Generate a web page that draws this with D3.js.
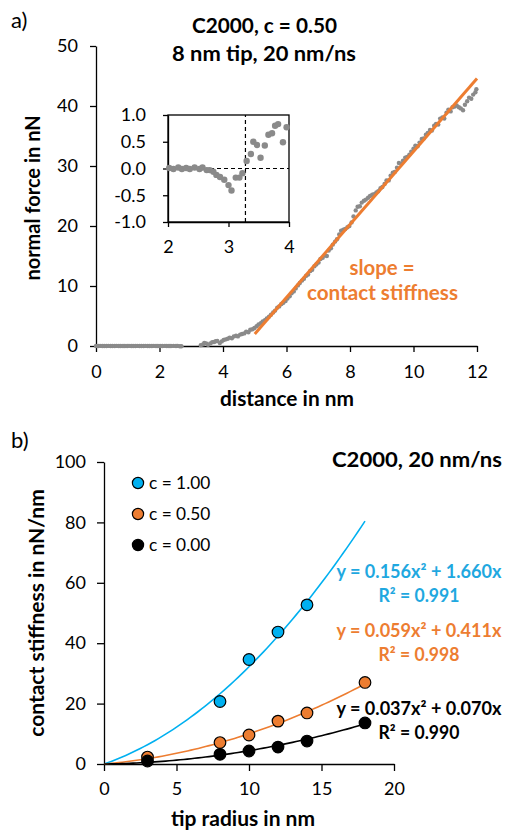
<!DOCTYPE html>
<html>
<head>
<meta charset="utf-8">
<script src="https://d3js.org/d3.v7.min.js"></script>
<style>
    body { margin: 0; background: #fff; }
    text { font-family: Lato, "Noto Sans", sans-serif; }
</style>
</head>
<body>
<div id="chart"></div>
<script>
// panel a: force vs distance curve, [distance nm, force nN]
var forceCurve = [
    [0.00, 0.01], [0.07, -0.01], [0.13, 0.02], [0.20, 0.00], [0.26, 0.01], [0.33, -0.01],
    [0.39, 0.02], [0.46, 0.00], [0.52, 0.01], [0.59, -0.01], [0.65, 0.02], [0.72, 0.00],
    [0.78, 0.01], [0.85, -0.01], [0.91, 0.01], [0.98, 0.00], [1.04, 0.02], [1.11, -0.01],
    [1.17, 0.01], [1.24, 0.00], [1.30, 0.02], [1.37, -0.01], [1.43, 0.01], [1.50, 0.00],
    [1.56, 0.02], [1.63, -0.01], [1.69, 0.01], [1.76, 0.00], [1.82, 0.02], [1.89, -0.01],
    [1.95, 0.01],
    [2.02, 0.01], [2.09, -0.01], [2.17, 0.02], [2.23, -0.01], [2.30, 0.01], [2.36, -0.01],
    [2.44, 0.02], [2.52, -0.01], [2.57, 0.02], [2.64, -0.03], [2.69, -0.03], [2.75, -0.06],
    [2.80, -0.12], [2.86, -0.16], [2.93, -0.21], [3.00, -0.31], [3.05, -0.41], [3.12, -0.17],
    [3.18, -0.17], [3.23, -0.09], [3.30, 0.14], [3.37, 0.27], [3.41, 0.50], [3.47, 0.44],
    [3.53, 0.20], [3.60, 0.43], [3.66, 0.63], [3.72, 0.66], [3.77, 0.80], [3.82, 0.83],
    [3.90, 0.49], [3.96, 0.77],
    [4.02, 1.0], [4.08, 1.1], [4.15, 1.2], [4.21, 1.4], [4.28, 1.3], [4.34, 1.6],
    [4.41, 1.7], [4.47, 1.6], [4.54, 1.9], [4.60, 2.0], [4.67, 2.1], [4.73, 2.4],
    [4.80, 2.3], [4.86, 2.7], [4.93, 2.8], [4.99, 3.0], [5.06, 3.3], [5.12, 3.6],
    [5.19, 3.8], [5.25, 4.1], [5.32, 4.3], [5.38, 4.6], [5.45, 4.9], [5.51, 5.2],
    [5.58, 5.6], [5.64, 5.9], [5.71, 6.4], [5.77, 6.6], [5.84, 7.0], [5.90, 7.2],
    [5.97, 7.5], [6.03, 7.9], [6.10, 8.3], [6.16, 8.8], [6.23, 9.1], [6.29, 9.6],
    [6.36, 10.1], [6.42, 10.5], [6.49, 10.9], [6.55, 11.2], [6.62, 11.7], [6.68, 11.9],
    [6.75, 12.5], [6.81, 12.7], [6.88, 13.3], [6.94, 13.6], [7.01, 13.9], [7.07, 14.5],
    [7.14, 14.7], [7.20, 15.1], [7.27, 15.0], [7.33, 15.9], [7.40, 16.3], [7.46, 16.9],
    [7.53, 17.4], [7.59, 17.8], [7.66, 18.6], [7.72, 19.2], [7.79, 19.4], [7.85, 19.5],
    [7.92, 19.8], [7.98, 20.0], [8.05, 20.6], [8.11, 21.6], [8.18, 22.6], [8.24, 23.2],
    [8.31, 23.3], [8.37, 23.9], [8.44, 24.2], [8.50, 24.4], [8.57, 24.7], [8.63, 25.0],
    [8.70, 25.2], [8.76, 25.3], [8.83, 25.6], [8.89, 25.8], [8.96, 26.3], [9.02, 26.5],
    [9.09, 27.0], [9.15, 27.6], [9.22, 27.6], [9.28, 28.4], [9.35, 28.9], [9.41, 29.0],
    [9.48, 29.7], [9.54, 30.5], [9.61, 30.4], [9.67, 30.9], [9.74, 31.4], [9.80, 31.5],
    [9.87, 31.9], [9.93, 32.4], [10.00, 32.9], [10.06, 33.4], [10.13, 33.3], [10.19, 33.9],
    [10.26, 34.5], [10.32, 34.6], [10.39, 35.2], [10.45, 35.5], [10.52, 36.0], [10.58, 35.9],
    [10.65, 36.7], [10.71, 37.0], [10.78, 36.9], [10.84, 37.9], [10.91, 38.1], [10.97, 37.9],
    [11.04, 38.9], [11.10, 39.4], [11.17, 39.1], [11.23, 39.8], [11.30, 39.9], [11.36, 40.1],
    [11.43, 39.8], [11.49, 39.6], [11.56, 39.3], [11.62, 40.2], [11.69, 40.8], [11.75, 41.4],
    [11.82, 41.2], [11.88, 41.9], [11.95, 42.3], [11.98, 42.8]
];
var slopeLine = [[5.0, 2.0], [12.0, 44.6]];
var contactPoint = 3.28;

var xTicksA = [0, 2, 4, 6, 8, 10, 12];
var yTicksA = [0, 10, 20, 30, 40, 50];
var xTicksInset = [2, 3, 4];
var yTicksInset = [-1.0, -0.5, 0.0, 0.5, 1.0];

// panel b: contact stiffness vs tip radius
var seriesNames = ["c = 1.00", "c = 0.50", "c = 0.00"];
var seriesColors = ["#00b0f0", "#ed7d31", "#000000"];
var radiusC100 = [8, 10, 12, 14];
var stiffC100 = [20.7, 34.6, 43.7, 52.7];
var radiusC050 = [3, 8, 10, 12, 14, 18];
var stiffC050 = [2.3, 7.1, 9.6, 14.2, 16.9, 27.0];
var radiusC000 = [3, 8, 10, 12, 14, 18];
var stiffC000 = [1.0, 3.2, 4.3, 5.6, 7.6, 13.6];
// polynomial fits y = a x^2 + b x
var fitCoeffs = [[0.156, 1.660], [0.059, 0.411], [0.037, 0.070]];
var fitLabels = ["y = 0.156x² + 1.660x", "y = 0.059x² + 0.411x", "y = 0.037x² + 0.070x"];
var r2Labels = ["R² = 0.991", "R² = 0.998", "R² = 0.990"];
var xTicksB = [0, 5, 10, 15, 20];
var yTicksB = [0, 20, 40, 60, 80, 100];

var width = 505,
    height = 834;

var svg = d3.select("#chart")
    .append("svg")
    .attr("width", width)
    .attr("height", height);

function styleAxis(g) {
    g.selectAll("path, line").attr("stroke", "#000").attr("stroke-width", 1.3);
    g.selectAll("text").attr("font-family", "Lato, sans-serif").attr("font-size", 18).attr("fill", "#000");
}

function boldText(x, y, size, label, len) {
    var t = svg.append("text").attr("x", x).attr("y", y)
        .attr("text-anchor", "middle").attr("font-weight", "bold").attr("font-size", size)
        .text(label);
    if (len) t.attr("textLength", len).attr("lengthAdjust", "spacingAndGlyphs");
    return t;
}

// ---------- panel a ----------
var xA = d3.scaleLinear().domain([0, 12]).range([96, 477]);
var yA = d3.scaleLinear().domain([0, 50]).range([346, 46]);

svg.append("text").attr("x", 11).attr("y", 28)
    .attr("font-family", "'Liberation Serif', 'DejaVu Serif', serif")
    .attr("font-size", 22).text("a)");

boldText(264.5, 33, 20.5, "C2000, c = 0.50", 145);
boldText(264, 61, 20.5, "8 nm tip, 20 nm/ns", 184);

svg.append("g").attr("transform", "translate(0,346)")
    .call(d3.axisBottom(xA).tickValues(xTicksA).tickSizeInner(6).tickSizeOuter(0).tickPadding(13))
    .call(styleAxis);
svg.append("g").attr("transform", "translate(96,0)")
    .call(d3.axisLeft(yA).tickValues(yTicksA).tickSizeInner(6).tickSizeOuter(0).tickPadding(12))
    .call(styleAxis);

boldText(287, 406, 20, "distance in nm", 134);
boldText(0, 0, 20, "normal force in nN")
    .attr("transform", "translate(40,198) rotate(-90)");

svg.append("g").selectAll("circle")
    .data(forceCurve.filter(function(d) { return d[1] > -0.05; }))
    .enter().append("circle")
    .attr("cx", function(d) { return xA(d[0]); })
    .attr("cy", function(d) { return yA(d[1]); })
    .attr("r", 2.2)
    .attr("fill", "#8a8a8a");

svg.append("line")
    .attr("x1", xA(slopeLine[0][0])).attr("y1", yA(slopeLine[0][1]))
    .attr("x2", xA(slopeLine[1][0])).attr("y2", yA(slopeLine[1][1]))
    .attr("stroke", "#ed7d31").attr("stroke-width", 3);

boldText(382, 275, 20.5, "slope =", 65).attr("fill", "#ed7d31");
boldText(382.5, 300, 20.5, "contact stiffness", 151).attr("fill", "#ed7d31");

// inset
var xI = d3.scaleLinear().domain([2, 4]).range([168, 289]);
var yI = d3.scaleLinear().domain([-1, 1]).range([222, 115]);

svg.append("rect").attr("x", 168).attr("y", 115).attr("width", 121).attr("height", 107)
    .attr("fill", "#fff").attr("stroke", "#000").attr("stroke-width", 1.3);

svg.append("g").attr("transform", "translate(0,222)")
    .call(d3.axisBottom(xI).tickValues(xTicksInset).tickFormat(d3.format("d")).tickSizeInner(5).tickSizeOuter(0).tickPadding(13))
    .call(styleAxis);
svg.append("g").attr("transform", "translate(168,0)")
    .call(d3.axisLeft(yI).tickValues(yTicksInset).tickFormat(d3.format(".1f")).tickSizeInner(5).tickSizeOuter(0).tickPadding(17))
    .call(styleAxis);
// d3 uses a real minus sign; keep the hyphen like the original
svg.selectAll("text").each(function() {
    var t = d3.select(this);
    t.text(t.text().replace("\u2212", "-"));
});

svg.append("line")
    .attr("x1", xI(2)).attr("x2", xI(4)).attr("y1", yI(0)).attr("y2", yI(0))
    .attr("stroke", "#000").attr("stroke-width", 1.2).attr("stroke-dasharray", "4,3");
svg.append("line")
    .attr("x1", xI(contactPoint)).attr("x2", xI(contactPoint)).attr("y1", yI(-1)).attr("y2", yI(1))
    .attr("stroke", "#000").attr("stroke-width", 1.2).attr("stroke-dasharray", "4,3");

svg.append("g").selectAll("circle")
    .data(forceCurve.filter(function(d) { return d[0] >= 2 && d[0] <= 4; }))
    .enter().append("circle")
    .attr("cx", function(d) { return xI(d[0]); })
    .attr("cy", function(d) { return yI(d[1]); })
    .attr("r", 3.2)
    .attr("fill", "#8a8a8a");

// ---------- panel b ----------
var xB = d3.scaleLinear().domain([0, 20]).range([104, 394]);
var yB = d3.scaleLinear().domain([0, 100]).range([764, 462]);

svg.append("text").attr("x", 11).attr("y", 448)
    .attr("font-family", "'Liberation Serif', 'DejaVu Serif', serif")
    .attr("font-size", 22).text("b)");

svg.append("g").attr("transform", "translate(0,764)")
    .call(d3.axisBottom(xB).tickValues(xTicksB).tickSizeInner(7).tickSizeOuter(0).tickPadding(11))
    .call(styleAxis);
svg.append("g").attr("transform", "translate(104,0)")
    .call(d3.axisLeft(yB).tickValues(yTicksB).tickSizeInner(7).tickSizeOuter(0).tickPadding(11))
    .call(styleAxis);

boldText(417, 467, 21.5, "C2000, 20 nm/ns", 170);
boldText(243, 826, 21, "tip radius in nm", 144);
boldText(0, 0, 21, "contact stiffness in nN/nm")
    .attr("transform", "translate(44,613) rotate(-90)");

var seriesB = [
    {x: radiusC100, y: stiffC100},
    {x: radiusC050, y: stiffC050},
    {x: radiusC000, y: stiffC000}
];

var fitLine = d3.line()
    .x(function(d) { return xB(d[0]); })
    .y(function(d) { return yB(d[1]); });

fitCoeffs.forEach(function(c, i) {
    var pts = d3.range(0, 18.001, 0.25).map(function(x) { return [x, c[0] * x * x + c[1] * x]; });
    svg.append("path").datum(pts)
        .attr("d", fitLine)
        .attr("fill", "none")
        .attr("stroke", seriesColors[i])
        .attr("stroke-width", 1.6);
});

seriesB.forEach(function(s, i) {
    svg.append("g").selectAll("circle")
        .data(s.x.map(function(x, j) { return [x, s.y[j]]; }))
        .enter().append("circle")
        .attr("cx", function(d) { return xB(d[0]); })
        .attr("cy", function(d) { return yB(d[1]); })
        .attr("r", 5.8)
        .attr("fill", seriesColors[i])
        .attr("stroke", "#000")
        .attr("stroke-width", 1.2);
});

// legend
var legendY = [483, 514, 545];
seriesNames.forEach(function(name, i) {
    svg.append("circle").attr("cx", 138).attr("cy", legendY[i]).attr("r", 5.6)
        .attr("fill", seriesColors[i]).attr("stroke", "#000").attr("stroke-width", 1.2);
    svg.append("text").attr("x", 149).attr("y", legendY[i] + 6)
        .attr("font-size", 17.3).text(name);
});

// fit equations
var eqY = [578, 637, 715];
var eqColors = ["#1fa8e0", "#ed7d31", "#000000"];
fitLabels.forEach(function(label, i) {
    boldText(419, eqY[i], 18.3, label, 165).attr("fill", eqColors[i]);
    boldText(419, eqY[i] + 24, 18.3, r2Labels[i], 81).attr("fill", eqColors[i]);
});
</script>
</body>
</html>
